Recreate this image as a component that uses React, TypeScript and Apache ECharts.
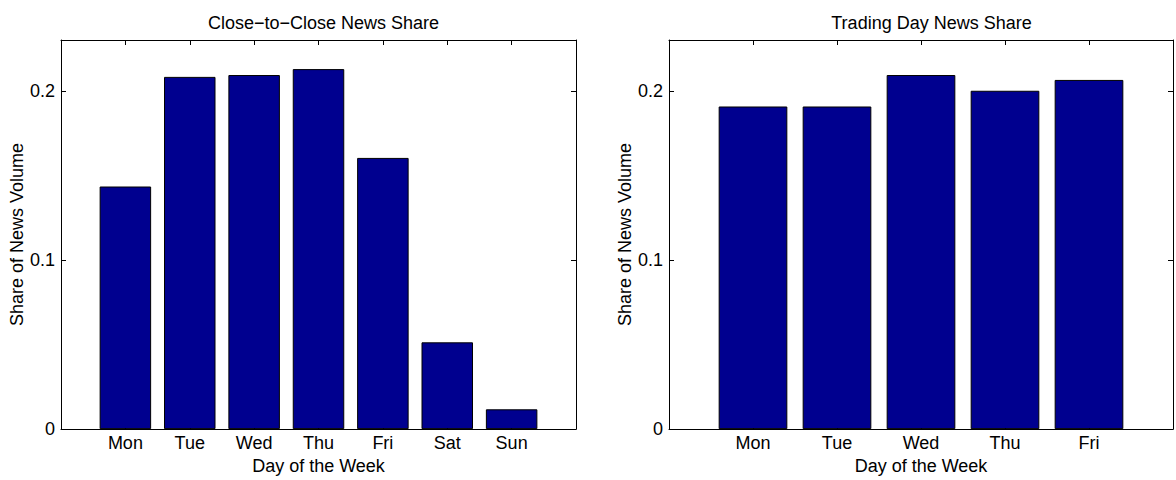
import React, { useEffect, useRef } from "react";
import * as echarts from "echarts";

const leftDays = ["Mon", "Tue", "Wed", "Thu", "Fri", "Sat", "Sun"];
const leftShares = [0.1434, 0.2082, 0.2093, 0.2128, 0.1603, 0.0513, 0.0117];
const rightDays = ["Mon", "Tue", "Wed", "Thu", "Fri"];
const rightShares = [0.1907, 0.1907, 0.2093, 0.2, 0.2064];
const yTicks = [0, 0.1, 0.2];
const leftTitle = "Close\u2212to\u2212Close News Share";
const rightTitle = "Trading Day News Share";
const xName = "Day of the Week";
const yName = "Share of News Volume";

const FONT = "'Liberation Sans', Arial, Helvetica, sans-serif";
const BAR = "#00008F";
const FS = 18;

export default function App() {
  const ref = useRef<HTMLDivElement>(null);
  useEffect(() => {
    document.body.style.margin = "0";
    if (!ref.current) return;
    const chart = echarts.init(ref.current, null, { renderer: "svg" });
    const plotW = 515;
    const grids = [
      { left: 61, top: 40, width: plotW, height: 394 },
      { left: 669, top: 40, width: plotW, height: 394 },
    ];
    const panels = [
      { days: leftDays, vals: leftShares, title: leftTitle },
      { days: rightDays, vals: rightShares, title: rightTitle },
    ];
    const lineStyle = { color: "#000", width: 1 };
    const xAxes: any[] = [];
    const yAxes: any[] = [];
    const series: any[] = [];
    panels.forEach((p, i) => {
      const n = p.days.length;
      const base = {
        type: "value",
        gridIndex: i,
        min: 0,
        max: n + 1,
        interval: 1,
        splitLine: { show: false },
        axisLine: { show: true, onZero: false, lineStyle },
        axisTick: { show: true, inside: true, length: 5, lineStyle },
      };
      xAxes.push({
        ...base,
        position: "bottom",
        name: xName,
        nameLocation: "middle",
        nameGap: 24,
        nameTextStyle: { color: "#000", fontSize: FS, fontFamily: FONT },
        axisLabel: {
          color: "#000",
          fontSize: FS,
          fontFamily: FONT,
          margin: 5,
          formatter: (v: number) => (v >= 1 && v <= n ? p.days[v - 1] : ""),
        },
      });
      xAxes.push({ ...base, position: "top", axisLabel: { show: false } });
      const ybase = {
        type: "value",
        gridIndex: i,
        min: 0,
        max: 0.23,
        interval: 0.1,
        splitLine: { show: false },
        axisLine: { show: true, onZero: false, lineStyle },
        axisTick: { show: true, inside: true, length: 5, lineStyle },
      };
      yAxes.push({
        ...ybase,
        position: "left",
        name: yName,
        nameLocation: "middle",
        nameGap: 35,
        nameTextStyle: { color: "#000", fontSize: FS, fontFamily: FONT },
        axisLabel: {
          color: "#000",
          fontSize: FS,
          fontFamily: FONT,
          margin: 6,
          formatter: (v: number) => {
            const t = yTicks.find((k) => Math.abs(k - v) < 1e-9);
            return t === undefined ? "" : String(t);
          },
        },
      });
      yAxes.push({ ...ybase, position: "right", axisLabel: { show: false } });
      series.push({
        type: "bar",
        xAxisIndex: i * 2,
        yAxisIndex: i * 2,
        barWidth: (plotW / (n + 1)) * 0.8,
        data: p.vals.map((v, k) => [k + 1, v]),
        itemStyle: { color: BAR, borderColor: "#000", borderWidth: 1 },
        z: 1,
      });
    });
    chart.setOption({
      animation: false,
      backgroundColor: "#fff",
      title: panels.map((p, i) => ({
        text: p.title,
        left: grids[i].left + plotW / 2,
        top: 9,
        textAlign: "center",
        textStyle: { color: "#000", fontSize: FS, fontWeight: "normal", fontFamily: FONT },
      })),
      grid: grids,
      xAxis: xAxes,
      yAxis: yAxes,
      series,
    });
    return () => chart.dispose();
  }, []);
  return <div ref={ref} style={{ width: 1176, height: 480 }} />;
}
